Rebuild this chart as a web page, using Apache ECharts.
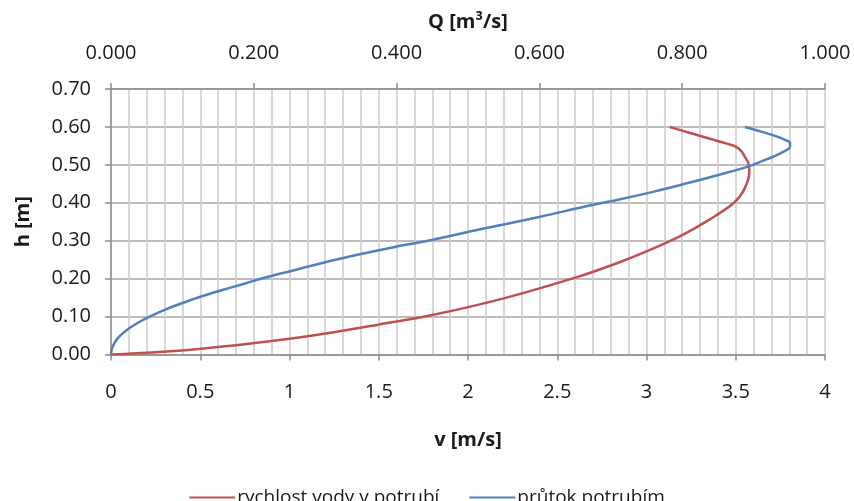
<!DOCTYPE html>
<html>
<head>
<meta charset="utf-8">
<script src="https://cdn.jsdelivr.net/npm/echarts@6/dist/echarts.min.js"></script>
<style>
  html, body { margin: 0; padding: 0; background: #fff; }
  #chart { width: 854px; height: 501px; }
</style>
</head>
<body>
<div id="chart"></div>
<script>
// rychlost vody v potrubí: h [m] -> v [m/s]
const hVel = [0, 0.006, 0.016, 0.027, 0.04, 0.058, 0.078, 0.104, 0.148, 0.204, 0.24, 0.276, 0.315, 0.355, 0.40, 0.438, 0.482, 0.505, 0.522, 0.537, 0.548, 0.556, 0.568, 0.584, 0.60];
const velocity = [0, 0.25, 0.52, 0.75, 0.98, 1.24, 1.49, 1.8, 2.2, 2.61, 2.83, 3.02, 3.2, 3.35, 3.49, 3.55, 3.576, 3.57, 3.55, 3.53, 3.5, 3.45, 3.36, 3.245, 3.13];

// průtok potrubím: h [m] -> Q [m3/s]
const hFlow = [0, 0.01, 0.02, 0.03, 0.042, 0.055, 0.07, 0.085, 0.1, 0.119, 0.135, 0.151, 0.17, 0.188, 0.205, 0.223, 0.249, 0.267, 0.283, 0.30, 0.33, 0.364, 0.39, 0.408, 0.43, 0.452, 0.474, 0.496, 0.51, 0.522, 0.535, 0.548, 0.558, 0.566, 0.575, 0.587, 0.60];
const flow = [0, 0.0006, 0.0023, 0.0048, 0.009, 0.016, 0.026, 0.039, 0.054, 0.077, 0.099, 0.123, 0.156, 0.189, 0.22, 0.258, 0.313, 0.355, 0.396, 0.444, 0.517, 0.603, 0.664, 0.71, 0.762, 0.808, 0.852, 0.893, 0.912, 0.928, 0.942, 0.951, 0.951, 0.944, 0.932, 0.912, 0.888];

const seriesNames = ['rychlost vody v potrubí', 'průtok potrubím'];

const font = '"Open Sans", "Noto Sans", sans-serif';
const axisGray = '#8c8c8c';
const textColor = '#1a1a1a';

const chart = echarts.init(document.getElementById('chart'));

chart.setOption({
  animation: false,
  backgroundColor: '#fff',
  textStyle: { fontFamily: font },
  grid: { left: 111, right: 29, top: 89, bottom: 146.5 },
  legend: {
    data: seriesNames,
    left: 'center',
    top: 483,
    itemWidth: 46,
    itemHeight: 14,
    itemGap: 30,
    icon: 'path://M0,6 L46,6 L46,8 L0,8 Z',
    textStyle: { fontSize: 19, color: textColor, fontFamily: font, padding: [0, 0, 0, -3] }
  },
  xAxis: [
    {
      type: 'value',
      position: 'bottom',
      min: 0, max: 4, interval: 0.5,
      name: 'v [m/s]',
      nameLocation: 'middle',
      nameGap: 76,
      nameTextStyle: { fontSize: 20, fontWeight: 'bold', color: textColor },
      axisLine: { show: true, lineStyle: { color: axisGray, width: 1.5 } },
      axisTick: { show: true, length: 6, lineStyle: { color: axisGray, width: 1.5 } },
      axisLabel: { fontSize: 20, color: textColor, margin: 28 },
      splitLine: { show: true, lineStyle: { color: '#cccccc', width: 1.5 } },
      minorTick: { show: false, splitNumber: 5 },
      minorSplitLine: { show: true, lineStyle: { color: '#cccccc', width: 1.5 } }
    },
    {
      type: 'value',
      position: 'top',
      min: 0, max: 1, interval: 0.2,
      name: 'Q [m³/s]',
      nameLocation: 'middle',
      nameGap: 57,
      nameTextStyle: { fontSize: 20, fontWeight: 'bold', color: textColor },
      axisLine: { show: true, lineStyle: { color: axisGray, width: 1.5 } },
      axisTick: { show: true, length: 6, lineStyle: { color: axisGray, width: 1.5 } },
      axisLabel: { fontSize: 20, color: textColor, margin: 26, formatter: v => v.toFixed(3) },
      splitLine: { show: false }
    }
  ],
  yAxis: {
    type: 'value',
    min: 0, max: 0.7, interval: 0.1,
    name: 'h [m]',
    nameLocation: 'middle',
    nameGap: 78,
    nameTextStyle: { fontSize: 20, fontWeight: 'bold', color: textColor },
    axisLine: { show: true, lineStyle: { color: axisGray, width: 1.5 } },
    axisTick: { show: true, length: 6, lineStyle: { color: axisGray, width: 1.5 } },
    axisLabel: { fontSize: 20, color: textColor, margin: 20, formatter: v => v.toFixed(2) },
    splitLine: { show: true, lineStyle: { color: '#a6a6a6', width: 1.5 } }
  },
  series: [
    {
      name: seriesNames[0],
      type: 'line',
      xAxisIndex: 0,
      data: velocity.map((v, i) => [v, hVel[i]]),
      smooth: 0.35,
      showSymbol: false,
      lineStyle: { color: '#c0504d', width: 2.5 },
      itemStyle: { color: '#c0504d' }
    },
    {
      name: seriesNames[1],
      type: 'line',
      xAxisIndex: 1,
      data: flow.map((q, i) => [q, hFlow[i]]),
      smooth: 0.35,
      showSymbol: false,
      lineStyle: { color: '#4f81bd', width: 2.5 },
      itemStyle: { color: '#4f81bd' }
    }
  ]
});
</script>
</body>
</html>
